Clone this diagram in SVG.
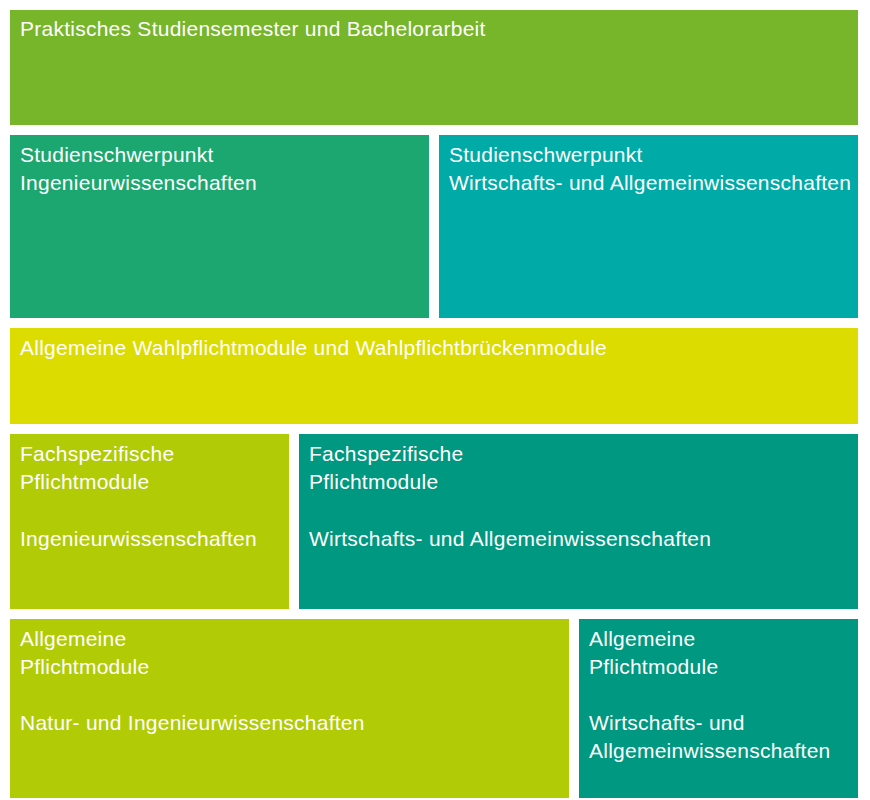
<svg xmlns="http://www.w3.org/2000/svg" width="870" height="800" viewBox="0 0 870 800">
<style>
text{font-family:"Liberation Sans",Arial,sans-serif;font-size:21px;letter-spacing:0.25px;fill:#ffffff}
</style>
<rect width="870" height="800" fill="#ffffff"/>
<g id="praktisch"><rect x="10" y="10" width="848" height="115" fill="#77b52a"/>
<text x="20" y="36">Praktisches Studiensemester und Bachelorarbeit</text></g>
<g id="schwerpunkt-ing"><rect x="10" y="135" width="419" height="183" fill="#1ca771"/>
<text x="20" y="162">Studienschwerpunkt</text><text x="20" y="190">Ingenieurwissenschaften</text></g>
<g id="schwerpunkt-wirt"><rect x="439" y="135" width="419" height="183" fill="#00aaa7"/>
<text x="449" y="162">Studienschwerpunkt</text><text x="449" y="190">Wirtschafts- und Allgemeinwissenschaften</text></g>
<g id="wahlpflicht"><rect x="10" y="328" width="848" height="96" fill="#dcdc00"/>
<text x="20" y="355">Allgemeine Wahlpflichtmodule und Wahlpflichtbrückenmodule</text></g>
<g id="fach-ing"><rect x="10" y="434" width="279" height="175" fill="#b1cb07"/>
<text x="20" y="461">Fachspezifische</text><text x="20" y="489">Pflichtmodule</text><text x="20" y="546">Ingenieurwissenschaften</text></g>
<g id="fach-wirt"><rect x="299" y="434" width="559" height="175" fill="#009880"/>
<text x="309" y="461">Fachspezifische</text><text x="309" y="489">Pflichtmodule</text><text x="309" y="546">Wirtschafts- und Allgemeinwissenschaften</text></g>
<g id="allg-nat"><rect x="10" y="619" width="559" height="179" fill="#b1cb07"/>
<text x="20" y="646">Allgemeine</text><text x="20" y="674">Pflichtmodule</text><text x="20" y="730">Natur- und Ingenieurwissenschaften</text></g>
<g id="allg-wirt"><rect x="579" y="619" width="279" height="179" fill="#009880"/>
<text x="589" y="646">Allgemeine</text><text x="589" y="674">Pflichtmodule</text><text x="589" y="730">Wirtschafts- und</text><text x="589" y="758">Allgemeinwissenschaften</text></g>
<g id="connectors"/>
</svg>
